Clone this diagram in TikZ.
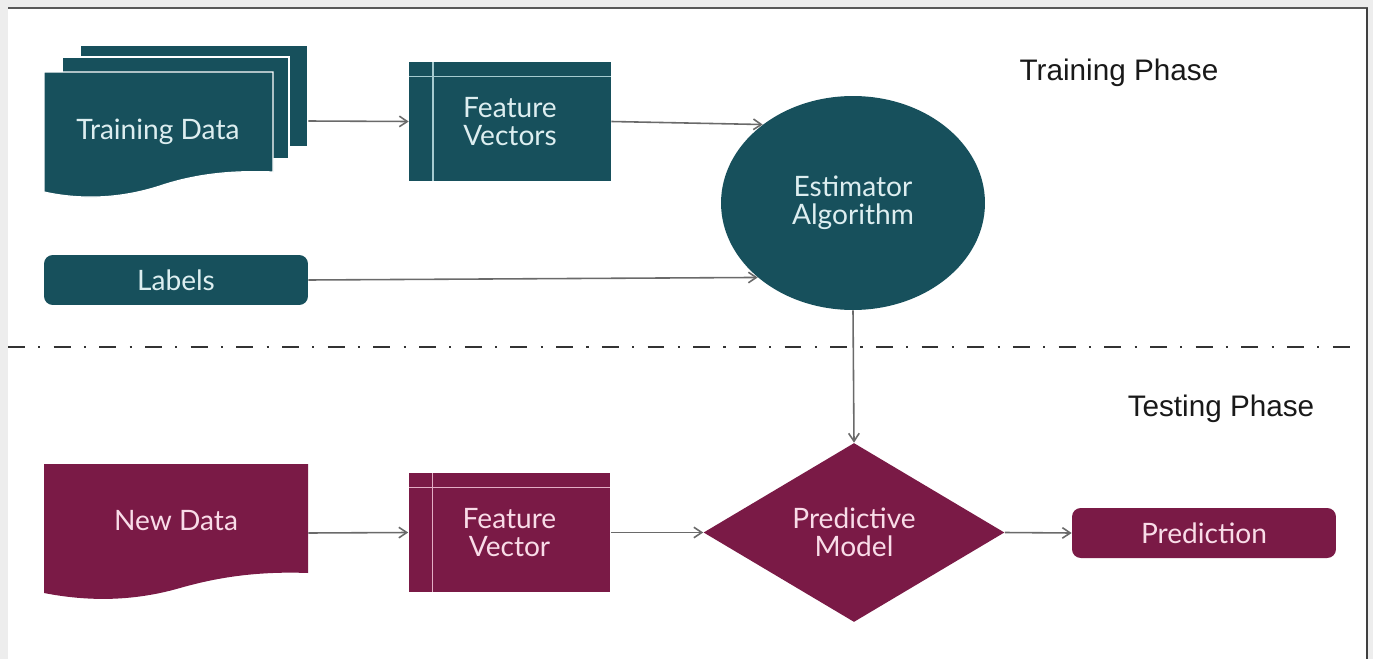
\documentclass[tikz,border=0pt]{standalone}
\usepackage{fontspec}
\setmainfont{Lato}
\newfontfamily\phasefont{Liberation Sans}
\usetikzlibrary{shapes.geometric,arrows.meta}

\definecolor{trainfill}{HTML}{17505C}
\definecolor{trainline}{HTML}{A6CBD0}
\definecolor{traintext}{HTML}{DDEEF0}
\definecolor{testfill}{HTML}{7A1A46}
\definecolor{testline}{HTML}{E3AEC5}
\definecolor{testtext}{HTML}{F9DCE8}
\definecolor{arrowgray}{HTML}{6A6A6A}

\tikzset{
  boxtext/.style={font=\fontsize{16}{16}\selectfont, align=center, inner sep=0pt},
  trainbox/.style={boxtext, fill=trainfill, text=traintext},
  testbox/.style={boxtext, fill=testfill, text=testtext},
  storebox/.style={rectangle, minimum width=4.04cm, minimum height=2.38cm,
    path picture={
      \draw[#1, line width=0.8pt]
        ([xshift=0.48cm]path picture bounding box.north west) --
        ([xshift=0.48cm]path picture bounding box.south west);
      \draw[#1, line width=0.8pt]
        ([yshift=-0.29cm]path picture bounding box.north west) --
        ([yshift=-0.29cm]path picture bounding box.north east);
    }},
  pill/.style={rectangle, rounded corners=5pt, minimum width=5.28cm, minimum height=1cm},
  phase/.style={font=\phasefont\fontsize{16.9}{18}\selectfont, text=black!90, inner sep=0pt},
  arr/.style={-{Straight Barb[length=4.5pt,width=6pt]}, draw=arrowgray, line width=0.9pt},
}

\begin{document}
\begin{tikzpicture}[x=0.02cm, y=-0.02cm]
    \useasboundingbox (0,0) rectangle (1373,659);
    % frame
    \fill[black!7] (0,0) rectangle (1373,659);
    \fill[white] (8,8) rectangle (1367,659);
    \draw[black!65, line width=1.2pt] (8,8) -- (1368,8);
    \draw[black!75, line width=1.6pt] (1367,8) -- (1367,659);

    % training data stack
    \filldraw[trainfill, draw=white, line width=0.7pt] (80,45) rectangle (308,147);
    \filldraw[trainfill, draw=white, line width=0.7pt] (62,57) rectangle (289,159);
    \filldraw[trainfill, draw=white, line width=0.7pt] (44,72) -- (273,72) -- (273,172)
        .. controls (225,170) and (190,176) .. (160,186)
        .. controls (120,199) and (80,200) .. (44,192) -- cycle;
    \node[inner sep=0pt, minimum width=5.28cm, minimum height=3.04cm] (tdata) at (176,121) {};
    \node[boxtext, text=traintext] (tdatatext) at (158,132) {Training Data};

    % new data sheet
    \fill[testfill] (44,464) -- (308,464) -- (308,573)
        .. controls (255,571) and (215,578) .. (180,588)
        .. controls (135,601) and (90,602) .. (44,593) -- cycle;
    \node[inner sep=0pt, minimum width=5.28cm, minimum height=2.76cm] (ndata) at (176,533) {};
    \node[boxtext, text=testtext] (ndatatext) at (176,521) {New Data};

    \node[trainbox, storebox=trainline] (fvs) at (510,121.5) {Feature\\Vectors};
    \node[testbox, storebox=testline] (fv) at (509.5,532.5) {Feature\\Vector};
    \node[trainbox, pill] (labels) at (176,280) {Labels};
    \node[testbox, pill] (pred) at (1204,533) {Prediction};
    \node[trainbox, ellipse, minimum width=5.28cm, minimum height=4.28cm] (est) at (853,203) {Estimator\\Algorithm};
    \node[testbox, diamond, aspect=1.68, minimum width=6.02cm, minimum height=3.58cm] (model) at (854,532.5) {Predictive\\Model};

    \node[phase] (trainphase) at (1119,73) {Training Phase};
    \node[phase] (testphase) at (1221,409) {Testing Phase};

    % phase separator
    \draw[black!80, line width=1.1pt, dash pattern=on 9.6pt off 7.6pt on 1.2pt off 7.6pt] (8,347) -- (1362,347);

    \draw[arr] (tdata.east) -- (fvs.west);
    \draw[arr] (fvs.east) -- (est.139);
    \draw[arr] (labels.east) -- (est.218);
    \draw[arr] (est.south) -- (model.north);
    \draw[arr] (ndata.east) -- (fv.west);
    \draw[arr] (fv.east) -- (model.west);
    \draw[arr] (model.east) -- (pred.west);
\end{tikzpicture}
\end{document}
